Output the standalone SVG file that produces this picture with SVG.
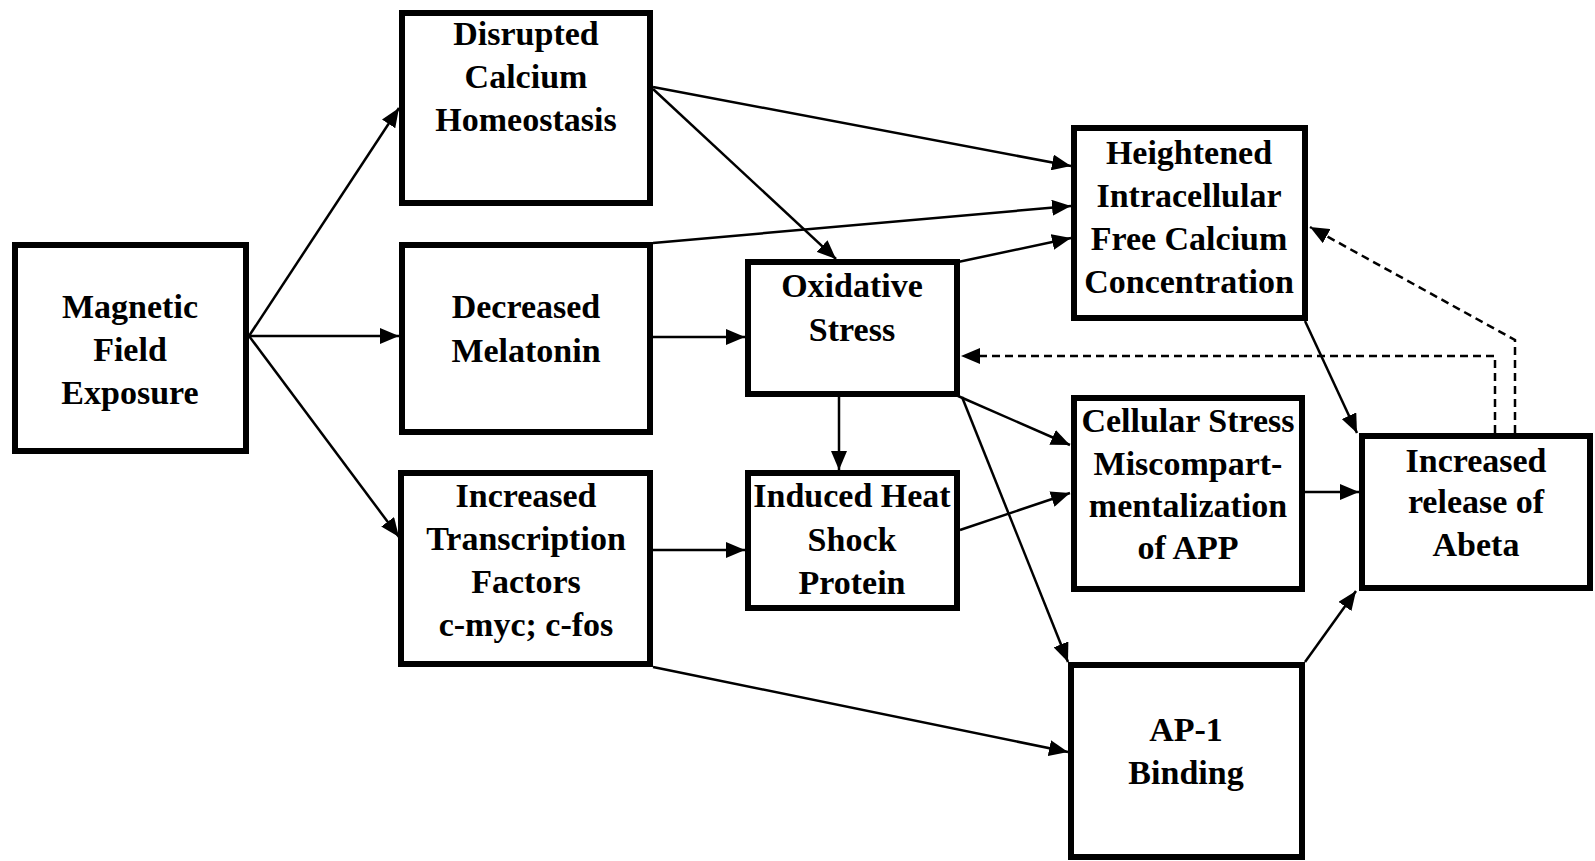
<svg xmlns="http://www.w3.org/2000/svg" width="1595" height="861" viewBox="0 0 1595 861">
<style>
.box{fill:#fff;stroke:#000;stroke-width:6}
.t{font-family:"Liberation Serif","Times New Roman",serif;font-weight:bold;font-size:34px;text-anchor:middle;fill:#000}
.c{fill:none;stroke:#000;stroke-width:2.5}
.d{fill:none;stroke:#000;stroke-width:2.5;stroke-dasharray:8 5}
</style>
<defs>
<marker id="a" markerUnits="userSpaceOnUse" markerWidth="20" markerHeight="16" refX="19" refY="8" orient="auto">
<path d="M0,0 L19,8 L0,16 z" fill="#000"/>
</marker>
</defs>
<rect width="1595" height="861" fill="#fff"/>
<g id="connectors">
<line class="c" x1="249" y1="336" x2="399" y2="108" marker-end="url(#a)"/>
<line class="c" x1="249" y1="336" x2="399" y2="336" marker-end="url(#a)"/>
<line class="c" x1="249" y1="336" x2="399" y2="537" marker-end="url(#a)"/>
<line class="c" x1="653" y1="87" x2="1071" y2="166" marker-end="url(#a)"/>
<line class="c" x1="653" y1="89" x2="836" y2="259" marker-end="url(#a)"/>
<line class="c" x1="653" y1="243" x2="1071" y2="206" marker-end="url(#a)"/>
<line class="c" x1="958" y1="262" x2="1071" y2="238" marker-end="url(#a)"/>
<line class="c" x1="653" y1="337" x2="745" y2="337" marker-end="url(#a)"/>
<line class="c" x1="839" y1="397" x2="839" y2="470" marker-end="url(#a)"/>
<line class="c" x1="653" y1="550" x2="745" y2="550" marker-end="url(#a)"/>
<line class="c" x1="958" y1="396" x2="1070" y2="445" marker-end="url(#a)"/>
<line class="c" x1="960" y1="530" x2="1070" y2="493" marker-end="url(#a)"/>
<line class="c" x1="962" y1="397" x2="1068" y2="662" marker-end="url(#a)"/>
<line class="c" x1="653" y1="667" x2="1068" y2="752" marker-end="url(#a)"/>
<line class="c" x1="1305" y1="321" x2="1357" y2="433" marker-end="url(#a)"/>
<line class="c" x1="1305" y1="492" x2="1359" y2="492" marker-end="url(#a)"/>
<line class="c" x1="1305" y1="662" x2="1356" y2="591" marker-end="url(#a)"/>
<polyline class="d" points="1495,433 1495,356 961,356" marker-end="url(#a)"/>
<polyline class="d" points="1515,433 1515,340 1310,227" marker-end="url(#a)"/>
</g>
<g id="magnetic">
<rect class="box" x="15" y="245" width="231" height="206"/>
<text class="t" x="130" y="318">Magnetic</text>
<text class="t" x="130" y="361">Field</text>
<text class="t" x="130" y="404">Exposure</text>
</g>
<g id="disrupted">
<rect class="box" x="402" y="13" width="248" height="190"/>
<text class="t" x="526" y="45">Disrupted</text>
<text class="t" x="526" y="88">Calcium</text>
<text class="t" x="526" y="131">Homeostasis</text>
</g>
<g id="melatonin">
<rect class="box" x="402" y="245" width="248" height="187"/>
<text class="t" x="526" y="318">Decreased</text>
<text class="t" x="526" y="362">Melatonin</text>
</g>
<g id="transcription">
<rect class="box" x="401" y="473" width="249" height="191"/>
<text class="t" x="526" y="507">Increased</text>
<text class="t" x="526" y="550">Transcription</text>
<text class="t" x="526" y="593">Factors</text>
<text class="t" x="526" y="636">c-myc; c-fos</text>
</g>
<g id="oxidative">
<rect class="box" x="748" y="262" width="209" height="132"/>
<text class="t" x="852" y="297">Oxidative</text>
<text class="t" x="852" y="341">Stress</text>
</g>
<g id="heatshock">
<rect class="box" x="748" y="473" width="209" height="135"/>
<text class="t" x="852" y="507">Induced Heat</text>
<text class="t" x="852" y="551">Shock</text>
<text class="t" x="852" y="594">Protein</text>
</g>
<g id="calcium">
<rect class="box" x="1074" y="128" width="231" height="190"/>
<text class="t" x="1189" y="164">Heightened</text>
<text class="t" x="1189" y="207">Intracellular</text>
<text class="t" x="1189" y="250">Free Calcium</text>
<text class="t" x="1189" y="293">Concentration</text>
</g>
<g id="cellular">
<rect class="box" x="1074" y="398" width="228" height="191"/>
<text class="t" x="1188" y="432">Cellular Stress</text>
<text class="t" x="1188" y="475">Miscompart-</text>
<text class="t" x="1188" y="517">mentalization</text>
<text class="t" x="1188" y="559">of APP</text>
</g>
<g id="abeta">
<rect class="box" x="1362" y="436" width="228" height="152"/>
<text class="t" x="1476" y="472">Increased</text>
<text class="t" x="1476" y="513">release of</text>
<text class="t" x="1476" y="556">Abeta</text>
</g>
<g id="ap1">
<rect class="box" x="1071" y="665" width="231" height="192"/>
<text class="t" x="1186" y="741">AP-1</text>
<text class="t" x="1186" y="784">Binding</text>
</g>
</svg>
